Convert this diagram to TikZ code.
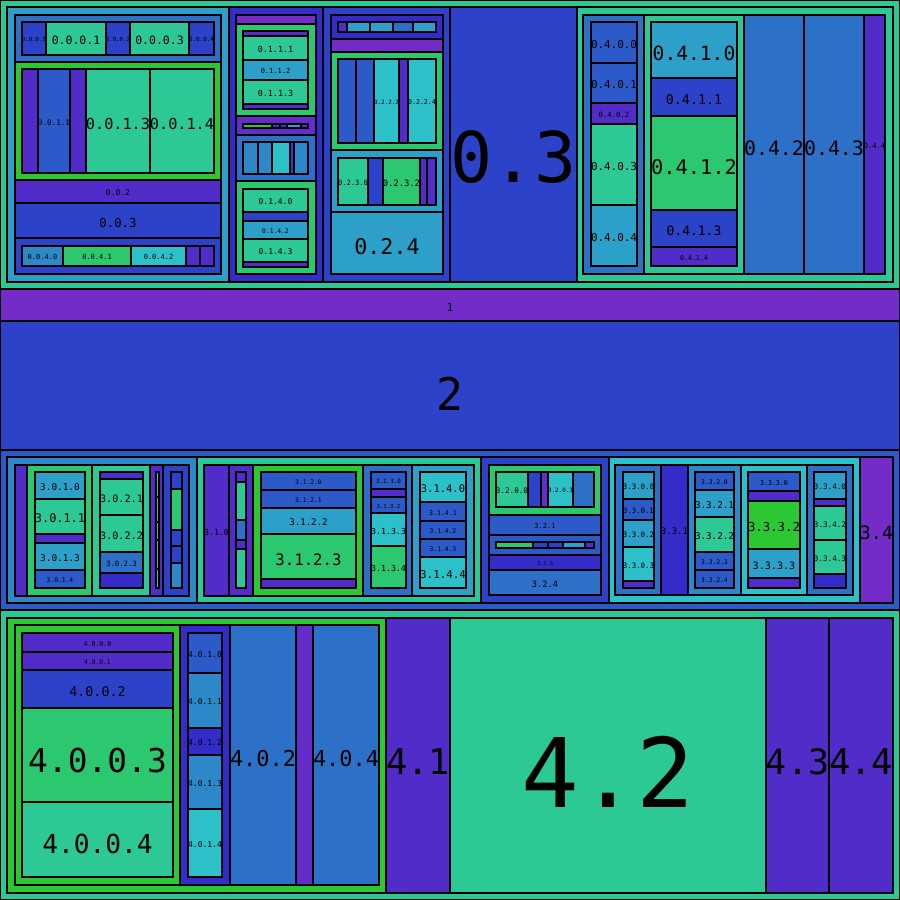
\documentclass[tikz,border=0pt]{standalone}
\usepackage{fontspec}
\setmonofont{DejaVu Sans Mono}
\definecolor{cteal}{RGB}{44,200,150}
\definecolor{ctealg}{RGB}{44,200,112}
\definecolor{cgreen}{RGB}{44,200,50}
\definecolor{ccyan}{RGB}{44,192,200}
\definecolor{clblue}{RGB}{44,160,200}
\definecolor{csblue}{RGB}{44,136,200}
\definecolor{cmblue}{RGB}{44,112,200}
\definecolor{cbm}{RGB}{44,90,200}
\definecolor{cblue}{RGB}{44,66,200}
\definecolor{cdblue}{RGB}{52,44,200}
\definecolor{cindigo}{RGB}{82,44,200}
\definecolor{cviolet}{RGB}{100,44,200}
\definecolor{cpurple}{RGB}{116,44,200}
\tikzset{
  cell/.style={draw=black, line width=1.2pt},
  lbl/.style={midway, inner sep=0pt, text=black, text height={1.09*#1pt}, text depth=0pt,
    font=\ttfamily\fontsize{#1}{#1}\selectfont}
}
\begin{document}
\begin{tikzpicture}[x=1pt,y=1pt,yscale=-1]
\useasboundingbox (0,0) rectangle (900,900);

%Block 0
\draw [cell, fill=cteal] (0,0) rectangle (900,289);
%0.0
\draw [cell, fill=clblue] (7,7) rectangle (229,282);
\draw [cell, fill=cmblue] (15,15) rectangle (221,62);
\draw [cell, fill=cblue] (22,22) rectangle node [lbl=5.7] (l0000) {0.0.0.0} (46,55);
\draw [cell, fill=cteal] (46,22) rectangle node [lbl=11.5] (l0001) {0.0.0.1} (106,55);
\draw [cell, fill=cblue] (106,22) rectangle node [lbl=5.7] (l0002) {0.0.0.2} (130,55);
\draw [cell, fill=cteal] (130,22) rectangle node [lbl=11.5] (l0003) {0.0.0.3} (189,55);
\draw [cell, fill=cblue] (189,22) rectangle node [lbl=5.9] (l0004) {0.0.0.4} (214,55);
\draw [cell, fill=cgreen] (15,62) rectangle (221,180);
\draw [cell, fill=cindigo] (22,69) rectangle (38,173);
\draw [cell, fill=cbm] (38,69) rectangle node [lbl=7.6] (l0011) {0.0.1.1} (70,173);
\draw [cell, fill=cindigo] (70,69) rectangle (86,173);
\draw [cell, fill=cteal] (86,69) rectangle node [lbl=15.2] (l0013) {0.0.1.3} (150,173);
\draw [cell, fill=cteal] (150,69) rectangle node [lbl=15.2] (l0014) {0.0.1.4} (214,173);
\draw [cell, fill=cindigo] (15,180) rectangle node [lbl=8] (l002) {0.0.2} (221,203);
\draw [cell, fill=cblue] (15,203) rectangle node [lbl=12.3] (l003) {0.0.3} (221,238);
\draw [cell, fill=cblue] (15,238) rectangle (221,274);
\draw [cell, fill=csblue] (22,246) rectangle node [lbl=7] (l0040) {0.0.4.0} (63,266);
\draw [cell, fill=ctealg] (63,246) rectangle node [lbl=7] (l0041) {0.0.4.1} (131,266);
\draw [cell, fill=ccyan] (131,246) rectangle node [lbl=7] (l0042) {0.0.4.2} (186,266);
\draw [cell, fill=cindigo] (186,246) rectangle (200,266);
\draw [cell, fill=cindigo] (200,246) rectangle (214,266);
%0.1
\draw [cell, fill=cdblue] (229,7) rectangle (323,282);
\draw [cell, fill=cpurple] (236,15) rectangle (316,24);
\draw [cell, fill=ctealg] (236,24) rectangle (316,116);
\draw [cell, fill=cindigo] (243,31) rectangle (308,36);
\draw [cell, fill=cteal] (243,36) rectangle node [lbl=8.4] (l0111) {0.1.1.1} (308,60);
\draw [cell, fill=clblue] (243,60) rectangle node [lbl=7] (l0112) {0.1.1.2} (308,80);
\draw [cell, fill=cteal] (243,80) rectangle node [lbl=8.4] (l0113) {0.1.1.3} (308,104);
\draw [cell, fill=cindigo] (243,104) rectangle (308,109);
\draw [cell, fill=cviolet] (236,116) rectangle (316,135);
\draw [cell, fill=cgreen] (243,124) rectangle (272,128);
\draw [cell, fill=cindigo] (272,124) rectangle (280,128);
\draw [cell, fill=cindigo] (280,124) rectangle (287,128);
\draw [cell, fill=clblue] (287,124) rectangle (301,128);
\draw [cell, fill=cindigo] (301,124) rectangle (308,128);
\draw [cell, fill=cmblue] (236,135) rectangle (316,181);
\draw [cell, fill=csblue] (243,142) rectangle (258,174);
\draw [cell, fill=csblue] (258,142) rectangle (272,174);
\draw [cell, fill=ccyan] (272,142) rectangle (290,174);
\draw [cell, fill=cindigo] (290,142) rectangle (294,174);
\draw [cell, fill=csblue] (294,142) rectangle (308,174);
\draw [cell, fill=ctealg] (236,181) rectangle (316,274);
\draw [cell, fill=cteal] (243,189) rectangle node [lbl=8] (l0140) {0.1.4.0} (308,212);
\draw [cell, fill=cblue] (243,212) rectangle (308,221);
\draw [cell, fill=clblue] (243,221) rectangle node [lbl=6.3] (l0142) {0.1.4.2} (308,239);
\draw [cell, fill=cteal] (243,239) rectangle node [lbl=8] (l0143) {0.1.4.3} (308,262);
\draw [cell, fill=cindigo] (243,262) rectangle (308,267);
%0.2
\draw [cell, fill=cblue] (323,7) rectangle (450,282);
\draw [cell, fill=cdblue] (331,15) rectangle (443,39);
\draw [cell, fill=cindigo] (338,22) rectangle (347,32);
\draw [cell, fill=clblue] (347,22) rectangle (370,32);
\draw [cell, fill=clblue] (370,22) rectangle (393,32);
\draw [cell, fill=cmblue] (393,22) rectangle (413,32);
\draw [cell, fill=clblue] (413,22) rectangle (436,32);
\draw [cell, fill=cpurple] (331,39) rectangle (443,52);
\draw [cell, fill=ctealg] (331,52) rectangle (443,150);
\draw [cell, fill=cbm] (338,59) rectangle (356,143);
\draw [cell, fill=cbm] (356,59) rectangle (374,143);
\draw [cell, fill=ccyan] (374,59) rectangle node [lbl=5.9] (l0222) {0.2.2.2} (399,143);
\draw [cell, fill=cindigo] (399,59) rectangle (408,143);
\draw [cell, fill=ccyan] (408,59) rectangle node [lbl=6.6] (l0224) {0.2.2.4} (436,143);
\draw [cell, fill=clblue] (331,150) rectangle (443,212);
\draw [cell, fill=cteal] (338,158) rectangle node [lbl=7.1] (l0230) {0.2.3.0} (368,205);
\draw [cell, fill=cblue] (368,158) rectangle (383,205);
\draw [cell, fill=ctealg] (383,158) rectangle node [lbl=8.8] (l0232) {0.2.3.2} (420,205);
\draw [cell, fill=cindigo] (420,158) rectangle (427,205);
\draw [cell, fill=cindigo] (427,158) rectangle (436,205);
\draw [cell, fill=clblue] (331,212) rectangle node [lbl=21.7] (l024) {0.2.4} (443,274);
%0.3
\draw [cell, fill=cblue] (450,7) rectangle node [lbl=70] (l03) {0.3} (577,282);
%0.4
\draw [cell, fill=cteal] (577,7) rectangle (893,282);
\draw [cell, fill=cmblue] (583,15) rectangle (644,274);
\draw [cell, fill=cbm] (591,22) rectangle node [lbl=10.9] (l0400) {0.4.0.0} (637,63);
\draw [cell, fill=cbm] (591,63) rectangle node [lbl=10.9] (l0401) {0.4.0.1} (637,103);
\draw [cell, fill=cindigo] (591,103) rectangle node [lbl=7.3] (l0402) {0.4.0.2} (637,124);
\draw [cell, fill=cteal] (591,124) rectangle node [lbl=10.9] (l0403) {0.4.0.3} (637,205);
\draw [cell, fill=clblue] (591,205) rectangle node [lbl=10.9] (l0404) {0.4.0.4} (637,266);
\draw [cell, fill=cteal] (644,15) rectangle (744,274);
\draw [cell, fill=clblue] (651,22) rectangle node [lbl=19.6] (l0410) {0.4.1.0} (737,78);
\draw [cell, fill=cblue] (651,78) rectangle node [lbl=13.3] (l0411) {0.4.1.1} (737,116);
\draw [cell, fill=ctealg] (651,116) rectangle node [lbl=20.4] (l0412) {0.4.1.2} (737,210);
\draw [cell, fill=cblue] (651,210) rectangle node [lbl=13] (l0413) {0.4.1.3} (737,247);
\draw [cell, fill=cindigo] (651,247) rectangle node [lbl=6.6] (l0414) {0.4.1.4} (737,266);
\draw [cell, fill=cmblue] (744,15) rectangle node [lbl=19.9] (l042) {0.4.2} (804,274);
\draw [cell, fill=cmblue] (804,15) rectangle node [lbl=19.9] (l043) {0.4.3} (864,274);
\draw [cell, fill=cindigo] (864,15) rectangle node [lbl=7] (l044) {0.4.4} (885,274);

%Block 1 and 2
\draw [cell, fill=cpurple] (0,289) rectangle node [lbl=11.2] (l1) {1} (900,321);
\draw [cell, fill=cblue] (0,321) rectangle node [lbl=45] (l2) {2} (900,450);

%Block 3
\draw [cell, fill=cbm] (0,450) rectangle (900,610);
%3.0
\draw [cell, fill=csblue] (7,457) rectangle (197,603);
\draw [cell, fill=cindigo] (15,465) rectangle (27,596);
\draw [cell, fill=ctealg] (27,465) rectangle (92,596);
\draw [cell, fill=clblue] (35,472) rectangle node [lbl=9.4] (l3010) {3.0.1.0} (85,499);
\draw [cell, fill=cteal] (35,499) rectangle node [lbl=11.9] (l3011) {3.0.1.1} (85,534);
\draw [cell, fill=cindigo] (35,534) rectangle (85,543);
\draw [cell, fill=clblue] (35,543) rectangle node [lbl=9.4] (l3013) {3.0.1.3} (85,570);
\draw [cell, fill=cbm] (35,570) rectangle node [lbl=6.3] (l3014) {3.0.1.4} (85,588);
\draw [cell, fill=cteal] (92,465) rectangle (150,596);
\draw [cell, fill=cindigo] (100,472) rectangle (143,479);
\draw [cell, fill=cteal] (100,479) rectangle node [lbl=10.2] (l3021) {3.0.2.1} (143,515);
\draw [cell, fill=cteal] (100,515) rectangle node [lbl=10.2] (l3022) {3.0.2.2} (143,552);
\draw [cell, fill=cmblue] (100,552) rectangle node [lbl=7.3] (l3023) {3.0.2.3} (143,573);
\draw [cell, fill=cdblue] (100,573) rectangle (143,588);
\draw [cell, fill=cindigo] (150,465) rectangle (163,596);
\draw [cell, fill=cteal] (156,472) rectangle (159,497);
\draw [cell, fill=cteal] (156,497) rectangle (159,522);
\draw [cell, fill=cteal] (156,522) rectangle (159,540);
\draw [cell, fill=cteal] (156,540) rectangle (159,569);
\draw [cell, fill=cteal] (156,569) rectangle (159,588);
\draw [cell, fill=cblue] (163,465) rectangle (189,596);
\draw [cell, fill=cblue] (171,472) rectangle (182,489);
\draw [cell, fill=ctealg] (171,489) rectangle (182,530);
\draw [cell, fill=cblue] (171,530) rectangle (182,546);
\draw [cell, fill=cblue] (171,546) rectangle (182,563);
\draw [cell, fill=csblue] (171,563) rectangle (182,588);
%3.1
\draw [cell, fill=cteal] (197,457) rectangle (481,603);
\draw [cell, fill=cindigo] (204,465) rectangle node [lbl=8.3] (l310) {3.1.0} (229,596);
\draw [cell, fill=cindigo] (229,465) rectangle (253,596);
\draw [cell, fill=cindigo] (236,472) rectangle (246,482);
\draw [cell, fill=cteal] (236,482) rectangle (246,520);
\draw [cell, fill=cmblue] (236,520) rectangle (246,540);
\draw [cell, fill=cindigo] (236,540) rectangle (246,549);
\draw [cell, fill=cteal] (236,549) rectangle (246,588);
\draw [cell, fill=cgreen] (253,465) rectangle (363,596);
\draw [cell, fill=cbm] (261,472) rectangle node [lbl=6.3] (l3120) {3.1.2.0} (356,490);
\draw [cell, fill=cbm] (261,490) rectangle node [lbl=6.3] (l3121) {3.1.2.1} (356,508);
\draw [cell, fill=clblue] (261,508) rectangle node [lbl=9.1] (l3122) {3.1.2.2} (356,534);
\draw [cell, fill=ctealg] (261,534) rectangle node [lbl=15.7] (l3123) {3.1.2.3} (356,579);
\draw [cell, fill=cindigo] (261,579) rectangle (356,588);
\draw [cell, fill=cmblue] (363,465) rectangle (412,596);
\draw [cell, fill=cbm] (371,472) rectangle node [lbl=5.9] (l3130) {3.1.3.0} (406,489);
\draw [cell, fill=cindigo] (371,489) rectangle (406,497);
\draw [cell, fill=cbm] (371,497) rectangle node [lbl=5.6] (l3132) {3.1.3.2} (406,513);
\draw [cell, fill=ccyan] (371,513) rectangle node [lbl=8.3] (l3133) {3.1.3.3} (406,546);
\draw [cell, fill=ctealg] (371,546) rectangle node [lbl=8.3] (l3134) {3.1.3.4} (406,588);
\draw [cell, fill=clblue] (412,465) rectangle (474,596);
\draw [cell, fill=ccyan] (420,472) rectangle node [lbl=10.5] (l3140) {3.1.4.0} (466,502);
\draw [cell, fill=cbm] (420,502) rectangle node [lbl=6.6] (l3141) {3.1.4.1} (466,521);
\draw [cell, fill=cbm] (420,521) rectangle node [lbl=6.3] (l3142) {3.1.4.2} (466,539);
\draw [cell, fill=cbm] (420,539) rectangle node [lbl=6.3] (l3143) {3.1.4.3} (466,557);
\draw [cell, fill=ccyan] (420,557) rectangle node [lbl=10.8] (l3144) {3.1.4.4} (466,588);
%3.2
\draw [cell, fill=cblue] (481,457) rectangle (609,603);
\draw [cell, fill=ctealg] (489,465) rectangle (601,515);
\draw [cell, fill=cteal] (496,472) rectangle node [lbl=7.6] (l3200) {3.2.0.0} (528,507);
\draw [cell, fill=cblue] (528,472) rectangle (541,507);
\draw [cell, fill=cviolet] (541,472) rectangle (548,507);
\draw [cell, fill=ccyan] (548,472) rectangle node [lbl=5.9] (l3203) {3.2.0.3} (573,507);
\draw [cell, fill=cmblue] (573,472) rectangle (594,507);
\draw [cell, fill=cbm] (489,515) rectangle node [lbl=7] (l321) {3.2.1} (601,535);
\draw [cell, fill=cbm] (489,535) rectangle (601,555);
\draw [cell, fill=ctealg] (496,542) rectangle (533,548);
\draw [cell, fill=cblue] (533,542) rectangle (548,548);
\draw [cell, fill=cblue] (548,542) rectangle (563,548);
\draw [cell, fill=clblue] (563,542) rectangle (585,548);
\draw [cell, fill=cindigo] (585,542) rectangle (594,548);
\draw [cell, fill=cdblue] (489,555) rectangle node [lbl=5.3] (l323) {3.2.3} (601,570);
\draw [cell, fill=cmblue] (489,570) rectangle node [lbl=8.7] (l324) {3.2.4} (601,595);
%3.3
\draw [cell, fill=ccyan] (609,457) rectangle (860,603);
\draw [cell, fill=cmblue] (615,465) rectangle (661,595);
\draw [cell, fill=clblue] (623,472) rectangle node [lbl=7.4] (l3300) {3.3.0.0} (654,499);
\draw [cell, fill=cbm] (623,499) rectangle node [lbl=7.3] (l3301) {3.3.0.1} (654,520);
\draw [cell, fill=clblue] (623,520) rectangle node [lbl=7.4] (l3302) {3.3.0.2} (654,547);
\draw [cell, fill=ccyan] (623,547) rectangle node [lbl=7.4] (l3303) {3.3.0.3} (654,581);
\draw [cell, fill=cindigo] (623,581) rectangle (654,588);
\draw [cell, fill=cdblue] (661,465) rectangle node [lbl=9] (l331) {3.3.1} (688,595);
\draw [cell, fill=csblue] (688,465) rectangle (741,595);
\draw [cell, fill=cbm] (695,472) rectangle node [lbl=6.3] (l3320) {3.3.2.0} (734,490);
\draw [cell, fill=clblue] (695,490) rectangle node [lbl=9.2] (l3321) {3.3.2.1} (734,517);
\draw [cell, fill=cteal] (695,517) rectangle node [lbl=9.2] (l3322) {3.3.2.2} (734,552);
\draw [cell, fill=cbm] (695,552) rectangle node [lbl=6.3] (l3323) {3.3.2.3} (734,570);
\draw [cell, fill=cbm] (695,570) rectangle node [lbl=6.3] (l3324) {3.3.2.4} (734,588);
\draw [cell, fill=ccyan] (741,465) rectangle (807,595);
\draw [cell, fill=cbm] (748,472) rectangle node [lbl=6.6] (l3330) {3.3.3.0} (800,491);
\draw [cell, fill=cindigo] (748,491) rectangle (800,501);
\draw [cell, fill=cgreen] (748,501) rectangle node [lbl=12.3] (l3332) {3.3.3.2} (800,549);
\draw [cell, fill=clblue] (748,549) rectangle node [lbl=10.1] (l3333) {3.3.3.3} (800,578);
\draw [cell, fill=cindigo] (748,578) rectangle (800,588);
\draw [cell, fill=cmblue] (807,465) rectangle (853,595);
\draw [cell, fill=clblue] (814,472) rectangle node [lbl=7.6] (l3340) {3.3.4.0} (846,499);
\draw [cell, fill=cindigo] (814,499) rectangle (846,506);
\draw [cell, fill=cteal] (814,506) rectangle node [lbl=7.6] (l3342) {3.3.4.2} (846,540);
\draw [cell, fill=cteal] (814,540) rectangle node [lbl=7.6] (l3343) {3.3.4.3} (846,574);
\draw [cell, fill=cdblue] (814,574) rectangle (846,588);
%3.4
\draw [cell, fill=cpurple] (860,457) rectangle node [lbl=18.3] (l34) {3.4} (893,603);

%Block 4
\draw [cell, fill=cteal] (0,610) rectangle (900,900);
\draw [cell, fill=cgreen] (7,618) rectangle (386,893);
\draw [cell, fill=cgreen] (15,625) rectangle (180,885);
\draw [cell, fill=cindigo] (22,633) rectangle node [lbl=6.6] (l4000) {4.0.0.0} (173,652);
\draw [cell, fill=cindigo] (22,652) rectangle node [lbl=6.3] (l4001) {4.0.0.1} (173,670);
\draw [cell, fill=cblue] (22,670) rectangle node [lbl=13.3] (l4002) {4.0.0.2} (173,708);
\draw [cell, fill=ctealg] (22,708) rectangle node [lbl=32.9] (l4003) {4.0.0.3} (173,802);
\draw [cell, fill=cteal] (22,802) rectangle node [lbl=26.2] (l4004) {4.0.0.4} (173,877);
\draw [cell, fill=cdblue] (180,625) rectangle (230,885);
\draw [cell, fill=cbm] (188,633) rectangle node [lbl=8] (l4010) {4.0.1.0} (222,673);
\draw [cell, fill=csblue] (188,673) rectangle node [lbl=8] (l4011) {4.0.1.1} (222,728);
\draw [cell, fill=cdblue] (188,728) rectangle node [lbl=8] (l4012) {4.0.1.2} (222,755);
\draw [cell, fill=csblue] (188,755) rectangle node [lbl=8] (l4013) {4.0.1.3} (222,809);
\draw [cell, fill=ccyan] (188,809) rectangle node [lbl=8] (l4014) {4.0.1.4} (222,877);
\draw [cell, fill=cmblue] (230,625) rectangle node [lbl=21.9] (l402) {4.0.2} (296,885);
\draw [cell, fill=cviolet] (296,625) rectangle (313,885);
\draw [cell, fill=cmblue] (313,625) rectangle node [lbl=21.9] (l404) {4.0.4} (379,885);
\draw [cell, fill=cindigo] (386,618) rectangle node [lbl=35.4] (l41) {4.1} (450,893);
\draw [cell, fill=cteal] (450,618) rectangle node [lbl=96] (l42) {4.2} (766,893);
\draw [cell, fill=cindigo] (766,618) rectangle node [lbl=34.9] (l43) {4.3} (829,893);
\draw [cell, fill=cindigo] (829,618) rectangle node [lbl=35.4] (l44) {4.4} (893,893);

\end{tikzpicture}
\end{document}
